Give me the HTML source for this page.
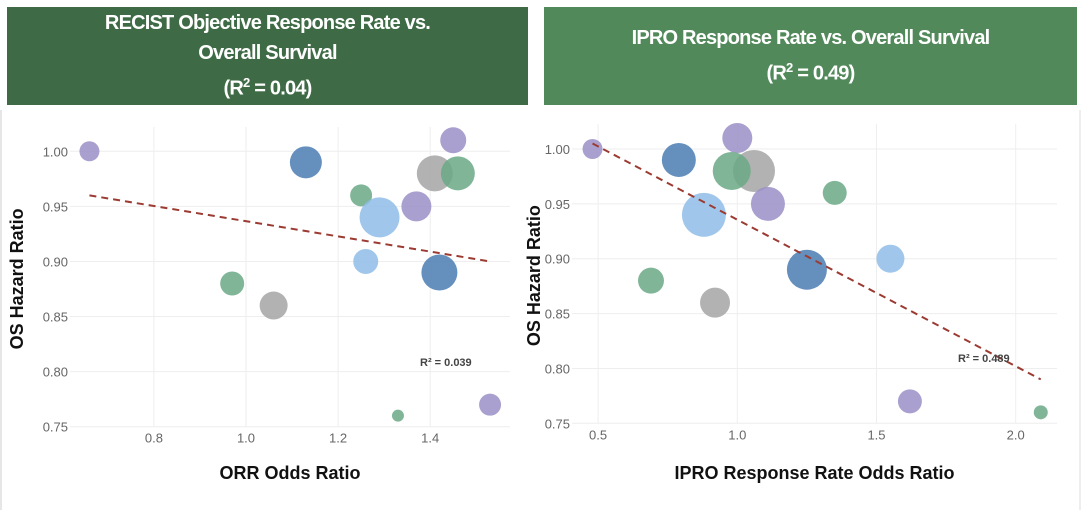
<!DOCTYPE html>
<html><head><meta charset="utf-8"><style>
body{margin:0;width:1082px;height:510px;background:#fff;overflow:hidden;font-family:"Liberation Sans",sans-serif}
.hdr{position:absolute;top:7px;height:98px;color:#fff;font-weight:bold;font-size:20px;text-align:center;display:flex;flex-direction:column;justify-content:center;line-height:30px;letter-spacing:-0.8px}
</style></head><body>
<div class="hdr" style="left:7px;width:521px;background:#3e6b45">
<div>RECIST Objective Response Rate vs.</div><div>Overall Survival</div><div>(R<sup style="font-size:13px">2</sup> = 0.04)</div></div>
<div class="hdr" style="left:544px;width:533px;background:#52895a;line-height:30px">
<div>IPRO Response Rate vs. Overall Survival</div><div>(R<sup style="font-size:13px">2</sup> = 0.49)</div></div>
<svg id="svg" width="1082" height="510" style="position:absolute;left:0;top:0">
<line x1="1" y1="110" x2="1" y2="510" stroke="#ccc"/>
<line x1="1080" y1="110" x2="1080" y2="510" stroke="#ddd"/>
</svg>
<script>
const colors={purple:'#9b8fc7',dblue:'#4a7db3',green:'#6aa985',lblue:'#8fbde8',gray:'#a5a5a5'};
// left chart data
const leftX=[0.66,1.13,1.25,1.41,1.46,1.45,1.29,1.37,1.26,1.42,0.97,1.06,1.33,1.53];
const leftY=[1.00,0.99,0.96,0.98,0.98,1.01,0.94,0.95,0.90,0.89,0.88,0.86,0.76,0.77];
const leftR=[10,16,11,18,17,13,20,15,12.5,18,12,14,6,11];
const leftC=['purple','dblue','green','gray','green','purple','lblue','purple','lblue','dblue','green','gray','green','purple'];
const leftTrend=[[0.66,0.96],[1.53,0.90]];
const leftXTicks=[0.8,1.0,1.2,1.4];
// right chart data
const rightX=[0.48,0.79,1.00,1.06,0.98,1.11,1.35,0.88,1.25,1.55,0.69,0.92,1.62,2.09];
const rightY=[1.00,0.99,1.01,0.98,0.98,0.95,0.96,0.94,0.89,0.90,0.88,0.86,0.77,0.76];
const rightR=[10,17,15,21,19,17,12,22,20,14,13,15,12,7];
const rightC=['purple','dblue','purple','gray','green','purple','green','lblue','dblue','lblue','green','gray','purple','green'];
const rightTrend=[[0.48,1.005],[2.09,0.79]];
const rightXTicks=[0.5,1.0,1.5,2.0];
const yTicks=[0.75,0.80,0.85,0.90,0.95,1.00];
const NS='http://www.w3.org/2000/svg';
const svg=document.getElementById('svg');
function mk(tag,attrs,parent){const e=document.createElementNS(NS,tag);for(const k in attrs)e.setAttribute(k,attrs[k]);(parent||svg).appendChild(e);return e;}
function chart(o){
 const sx=v=>o.x0px+(v-o.x0)*o.xs, sy=v=>o.y0px-(v-0.75)*o.ys;
 const g=mk('g',{});
 
 
 yTicks.forEach(t=>{
  const l=mk('line',{x1:o.left,x2:o.right,y1:sy(t),y2:sy(t),stroke:'#eee'},g);
  
  
  const tx=mk('text',{x:o.left-2,y:sy(t)+5,'text-anchor':'end','font-size':'13',fill:'#666'},g);
  tx.textContent=t.toFixed(2);
  
  
 });
 o.xt.forEach(t=>{
  const l=mk('line',{x1:sx(t),x2:sx(t),y1:o.top,y2:o.y0px,stroke:'#eee'},g);
  
  
  const tx=mk('text',{x:sx(t),y:o.y0px+16,'text-anchor':'middle','font-size':'13',fill:'#666'},g);
  tx.textContent=t.toFixed(1);
  
  
 });
 o.X.forEach((x,i)=>{
  const c=mk('circle',{cx:sx(x),cy:sy(o.Y[i]),r:o.R[i],fill:colors[o.C[i]],'fill-opacity':0.85},g);
  
  
 });
 const tl=mk('line',{x1:sx(o.T[0][0]),y1:sy(o.T[0][1]),x2:sx(o.T[1][0]),y2:sy(o.T[1][1]),stroke:'#9b3b32','stroke-width':2,'stroke-dasharray':'7,5'},g);
 
 
 const an=mk('text',{x:o.ax,y:o.ay,'font-size':'11','font-weight':'bold',fill:'#444'},g);
 an.textContent=o.ann;
 
 
 const xt=mk('text',{x:(o.left+o.right)/2,y:479,'text-anchor':'middle','font-size':'18','font-weight':'bold',fill:'#111'},g);
 xt.textContent=o.xtitle;
 
 
 const yt=mk('text',{x:0,y:0,'text-anchor':'middle','font-size':'18','font-weight':'bold',fill:'#111',transform:`translate(${o.ytx},${(o.top+o.y0px)/2+2}) rotate(-90)`},g);
 yt.textContent='OS Hazard Ratio';
 
 
}
chart({name:'orr-chart',X:leftX,Y:leftY,R:leftR,C:leftC,T:leftTrend,xt:leftXTicks,x0:1.0,x0px:246,xs:460.5,y0px:426.7,ys:1101.6,left:70,right:510,top:127,ax:420,ay:366,ann:'R² = 0.039',xtitle:'ORR Odds Ratio',ytx:23});
chart({name:'ipro-chart',X:rightX,Y:rightY,R:rightR,C:rightC,T:rightTrend,xt:rightXTicks,x0:1.0,x0px:737.3,xs:278.4,y0px:423.3,ys:1097.2,left:572,right:1057,top:124,ax:958,ay:362,ann:'R² = 0.489',xtitle:'IPRO Response Rate Odds Ratio',ytx:540});
</script>
</body></html>
